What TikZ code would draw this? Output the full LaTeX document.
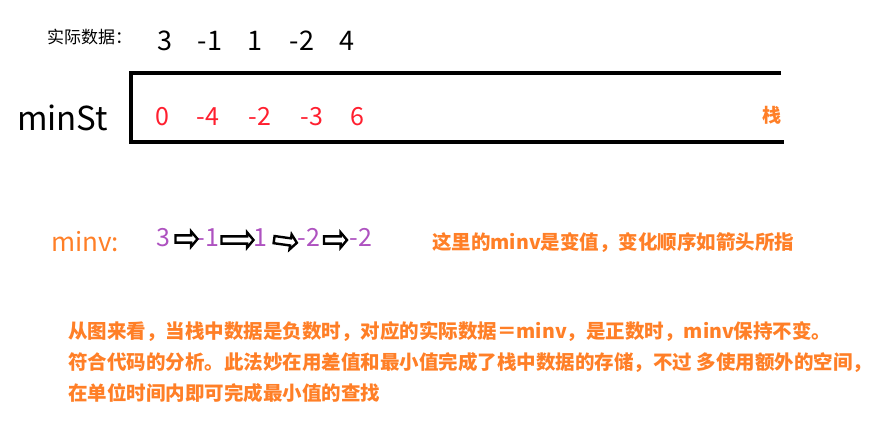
\documentclass[tikz,border=0pt]{standalone}
\usepackage{fontspec}
\setmainfont{Noto Sans CJK SC}
\usetikzlibrary{shapes.arrows}
\definecolor{orng}{HTML}{FF7F27}
\definecolor{redd}{HTML}{FF1F2F}
\definecolor{purp}{HTML}{AE52C0}
\tikzset{
  txt/.style={inner sep=0pt, anchor=base},
  blacknum/.style={txt, font=\fontsize{27}{27}\selectfont, text=black},
  rednum/.style={txt, font=\fontsize{25}{25}\selectfont, text=redd},
  purpnum/.style={txt, font=\fontsize{25}{25}\selectfont, text=purp},
  note/.style={inner sep=0pt, anchor=base west, font=\fontsize{19.5}{19.5}\selectfont\bfseries, text=orng},
  blockarrow/.style={single arrow, draw=black, fill=white, line width=2.4pt,
    inner xsep=0pt, inner ysep=2.4pt, minimum width=0pt, single arrow head extend=4pt,
    single arrow tip angle=100, minimum height=#1},
}
\begin{document}
\begin{tikzpicture}[x=1pt,y=-1pt]
\useasboundingbox (0,0) rectangle (890,426);
% top row
\node[inner sep=0pt, anchor=base west, font=\fontsize{17}{17}\selectfont] (lab) at (47,43.5) {实际数据：};
\node[blacknum] (a1) at (165,50) {3};
\node[blacknum] (a2) at (210,50) {-1};
\node[blacknum] (a3) at (255,50) {1};
\node[blacknum] (a4) at (302,50) {-2};
\node[blacknum] (a5) at (347,50) {4};
% stack
\coordinate (tr) at (781,73);
\coordinate (tl) at (131,73);
\coordinate (bl) at (131,142);
\coordinate (br) at (784,142);
\draw[line width=3.6pt, line join=miter] (tr) -- (tl) -- (bl) -- (br);
\node[inner sep=0pt, anchor=base west, font=\fontsize{33}{33}\selectfont] (minst) at (17,130) {minSt};
\node[rednum] (r1) at (162,125) {0};
\node[rednum] (r2) at (208,125) {-4};
\node[rednum] (r3) at (260,125) {-2};
\node[rednum] (r4) at (312,125) {-3};
\node[rednum] (r5) at (357,125) {6};
\node[inner sep=0pt, anchor=base, font=\fontsize{19}{19}\selectfont\bfseries, text=orng] (zhan) at (772,122) {栈};
% minv row
\node[inner sep=0pt, anchor=base west, font=\fontsize{26}{26}\selectfont, text=orng] (minv) at (51,251) {minv:};
\node[purpnum] (p1) at (163,246) {3};
\node[purpnum] (p2) at (208,246) {-1};
\node[purpnum] (p3) at (260,246) {1};
\node[purpnum] (p4) at (309,246) {-2};
\node[purpnum] (p5) at (361,246) {-2};
\node[blockarrow=22pt] (ar1) at (185,239) {};
\node[blockarrow=32pt] (ar2) at (236,240) {};
\node[blockarrow=23pt, rotate=-8] (ar3) at (284,241) {};
\node[blockarrow=23pt] (ar4) at (334,240) {};
\node[note] (n0) at (432,249) {这里的minv是变值，变化顺序如箭头所指};
% paragraph
\node[note] (l1) at (68,338) {从图来看，当栈中数据是负数时，对应的实际数据＝minv，是正数时，minv保持不变。};
\node[note] (l2) at (68,369) {符合代码的分析。此法妙在用差值和最小值完成了栈中数据的存储，不过 多使用额外的空间，};
\node[note] (l3) at (68,400) {在单位时间内即可完成最小值的查找};
\end{tikzpicture}
\end{document}
